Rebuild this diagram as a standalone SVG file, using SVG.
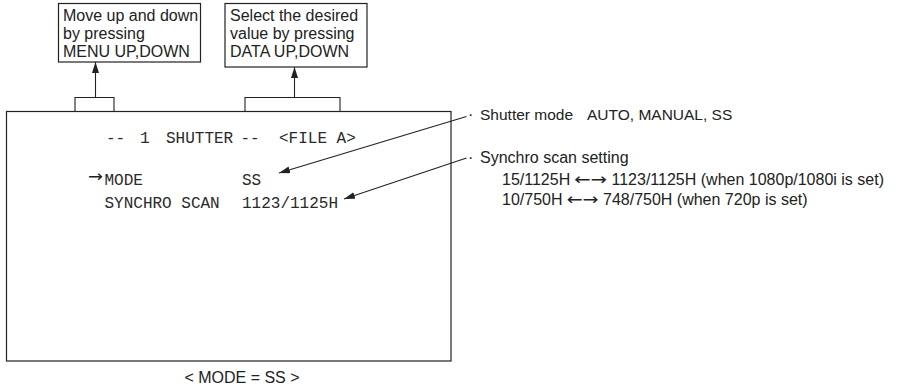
<svg xmlns="http://www.w3.org/2000/svg" width="897" height="390" viewBox="0 0 897 390">
  <style>
    .box { fill: #fff; stroke: #222; stroke-width: 1.2; }
    .ln { fill: none; stroke: #222; stroke-width: 1.1; }
    .sans { font-family: "Liberation Sans", Arial, sans-serif; fill: #222; }
    .bt { font-size: 16px; }
    .rt { font-size: 16px; }
    .arr { font-family: "DejaVu Sans", sans-serif; font-size: 16px; fill: #222; }
    .mono { font-family: "Liberation Mono", "Courier New", monospace; font-size: 16px; fill: #2a2a2a; }
  </style>
  <defs>
    <marker id="ah" viewBox="0 0 11 7" refX="11" refY="3.5" markerWidth="11" markerHeight="7" markerUnits="userSpaceOnUse" orient="auto">
      <path d="M0,0 L11,3.5 L0,7 Z" fill="#222"/>
    </marker>
  </defs>
  <rect width="897" height="390" fill="#fff"/>

  <g id="screen">
    <rect class="box" x="6.5" y="111.5" width="444.5" height="249.5"/>
    <text class="mono" x="106" y="143">--</text>
    <text class="mono" x="140" y="143">1</text>
    <text class="mono" x="166" y="143">SHUTTER</text>
    <text class="mono" x="240.5" y="143">--</text>
    <text class="mono" x="279" y="143">&lt;FILE A&gt;</text>
    <text class="arr" x="88" y="182" font-size="12" textLength="15" lengthAdjust="spacingAndGlyphs">→</text>
    <text class="mono" x="104.5" y="185">MODE</text>
    <text class="mono" x="242" y="185">SS</text>
    <text class="mono" x="104.5" y="208">SYNCHRO SCAN</text>
    <text class="mono" x="242" y="208">1123/1125H</text>
  </g>

  <g id="menu-box">
    <rect class="box" x="58.5" y="3.5" width="142" height="58.5"/>
    <text class="sans bt" x="63" y="21">Move up and down</text>
    <text class="sans bt" x="63" y="39">by pressing</text>
    <text class="sans bt" x="63" y="57">MENU UP,DOWN</text>
  </g>

  <g id="data-box">
    <rect class="box" x="225" y="3.5" width="142" height="63.5"/>
    <text class="sans bt" x="230" y="21">Select the desired</text>
    <text class="sans bt" x="230" y="39">value by pressing</text>
    <text class="sans bt" x="230" y="57">DATA UP,DOWN</text>
  </g>

  <g id="shutter-note">
    <text class="sans rt" x="468" y="120">·</text>
    <text class="sans" font-size="15.5" x="480" y="120">Shutter mode</text>
    <text class="sans" font-size="15.5" x="587" y="120">AUTO, MANUAL, SS</text>
  </g>

  <g id="synchro-note">
    <text class="sans rt" x="468" y="163">·</text>
    <text class="sans rt" x="480" y="163">Synchro scan setting</text>
    <text class="sans rt" x="502" y="185">15/1125H</text>
    <text class="arr" x="574" y="185" textLength="33" lengthAdjust="spacingAndGlyphs">←→</text>
    <text class="sans rt" x="611.5" y="185">1123/1125H (when 1080p/1080i is set)</text>
    <text class="sans rt" x="502" y="205">10/750H</text>
    <text class="arr" x="566.5" y="205" textLength="32" lengthAdjust="spacingAndGlyphs">←→</text>
    <text class="sans rt" x="603" y="205">748/750H (when 720p is set)</text>
  </g>

  <g id="caption">
    <text class="sans" font-size="16" x="242" y="383" text-anchor="middle">&lt; MODE = SS &gt;</text>
  </g>

  <g id="connectors">
    <path class="ln" d="M75,111.5 V97.5 H114 V111.5"/>
    <path class="ln" d="M245,111.5 V97.5 H340 V111.5"/>
    <line class="ln" x1="95.5" y1="97.5" x2="95.5" y2="62" marker-end="url(#ah)"/>
    <line class="ln" x1="294.5" y1="97.5" x2="294.5" y2="67" marker-end="url(#ah)"/>
    <line class="ln" x1="466.5" y1="116.5" x2="279" y2="173" marker-end="url(#ah)"/>
    <line class="ln" x1="466.5" y1="158" x2="344" y2="199" marker-end="url(#ah)"/>
  </g>
</svg>
